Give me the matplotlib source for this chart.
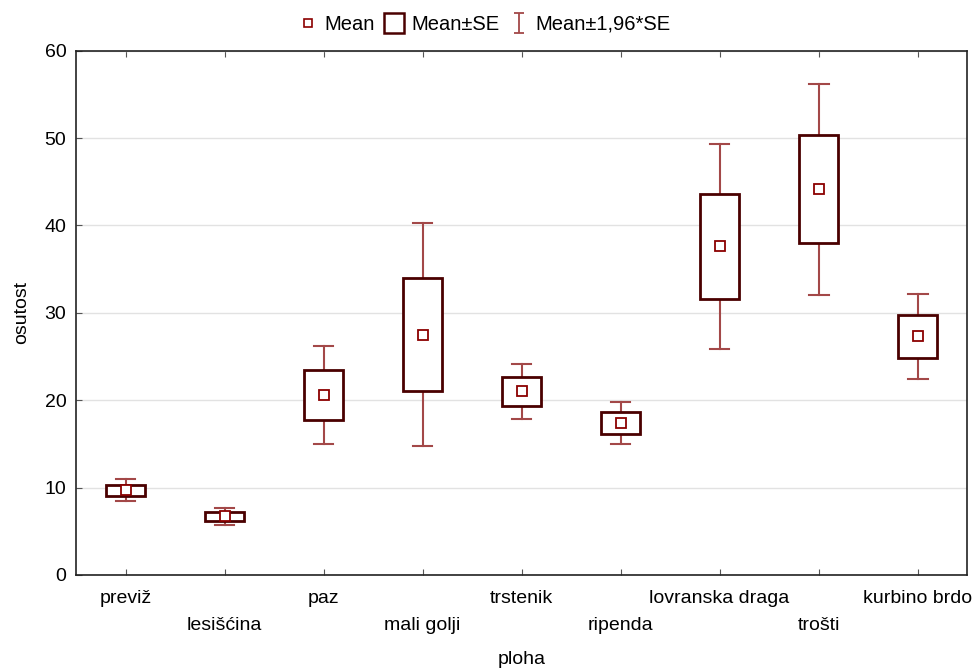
import matplotlib
matplotlib.use("Agg")
import matplotlib.pyplot as plt
from matplotlib.lines import Line2D
from matplotlib.patches import Rectangle
from matplotlib.path import Path
import numpy as np

plt.rcParams["font.family"] = ["Liberation Sans", "DejaVu Sans"]

# data
categories = ["previž", "lesišćina", "paz", "mali golji", "trstenik",
              "ripenda", "lovranska draga", "trošti", "kurbino brdo"]
means = [9.7, 6.7, 20.6, 27.5, 21.0, 17.4, 37.6, 44.15, 27.3]
se = [0.63, 0.5, 2.85, 6.5, 1.63, 1.25, 6.0, 6.15, 2.5]
y_ticks = [0, 10, 20, 30, 40, 50, 60]

box_col = "#4a0000"
whisk_col = "#a34848"
mean_col = "#8b0000"
fs = 14

fig = plt.figure(figsize=(9.76, 6.7), dpi=100)
ax = fig.add_axes([0.0779, 0.1418, 0.913, 0.7825])

x = np.arange(len(categories))
m = np.array(means)
s = np.array(se)
ci = 1.96 * s
box_w = 0.4
cap_w = 0.2

for xi, mi, si, ci_i in zip(x, m, s, ci):
    # whiskers (mean ± 1.96*SE)
    ax.plot([xi, xi], [mi + si, mi + ci_i], color=whisk_col, lw=1.5, zorder=2)
    ax.plot([xi, xi], [mi - si, mi - ci_i], color=whisk_col, lw=1.5, zorder=2)
    ax.plot([xi - cap_w / 2, xi + cap_w / 2], [mi + ci_i] * 2, color=whisk_col, lw=1.5, zorder=2)
    ax.plot([xi - cap_w / 2, xi + cap_w / 2], [mi - ci_i] * 2, color=whisk_col, lw=1.5, zorder=2)
    # box (mean ± SE)
    ax.add_patch(Rectangle((xi - box_w / 2, mi - si), box_w, 2 * si,
                           facecolor="white", edgecolor=box_col, lw=2, zorder=3))

ax.plot(x, m, ls="none", marker="s", ms=6.5, mfc="white", mec=mean_col, mew=1.3, zorder=4)

ax.set_xlim(-0.5, len(categories) - 0.5)
ax.set_ylim(0, 60)
ax.set_yticks(y_ticks)
ax.set_xticks(x)
ax.set_xticklabels(categories)
ax.grid(axis="y", color="#e2e2e2", lw=1)
ax.set_axisbelow(True)
ax.tick_params(axis="both", direction="in", length=4, color="#555555",
               labelsize=fs, top=True)
ax.tick_params(axis="y", pad=7)
for i, t in enumerate(ax.xaxis.get_major_ticks()):
    t.set_pad(11 if i % 2 == 0 else 30.5)
for sp in ax.spines.values():
    sp.set_linewidth(1.2)
    sp.set_color("#222222")

ax.set_xlabel("ploha", fontsize=fs, labelpad=12)
ax.set_ylabel("osutost", fontsize=fs)
ax.yaxis.set_label_coords(-0.052, 0.5)

# legend
ibar = Path([(-0.5, 1), (0.5, 1), (0, 1), (0, -1), (-0.5, -1), (0.5, -1)],
            [Path.MOVETO, Path.LINETO, Path.MOVETO, Path.LINETO, Path.MOVETO, Path.LINETO])
handles = [
    Line2D([], [], ls="none", marker="s", ms=6, mfc="white", mec=mean_col, mew=1.2),
    Line2D([], [], ls="none", marker="s", ms=15, mfc="white", mec=box_col, mew=1.8),
    Line2D([], [], ls="none", marker=ibar, ms=15, color=whisk_col, mew=1.3),
]
fig.legend(handles, ["Mean", "Mean±SE", "Mean±1,96*SE"], loc="upper center",
           bbox_to_anchor=(0.496, 1.005), ncol=3, frameon=False, fontsize=fs + 0.5,
           handlelength=1.0, handletextpad=0.35, columnspacing=0.45)

fig.savefig("out.png", dpi=100)
